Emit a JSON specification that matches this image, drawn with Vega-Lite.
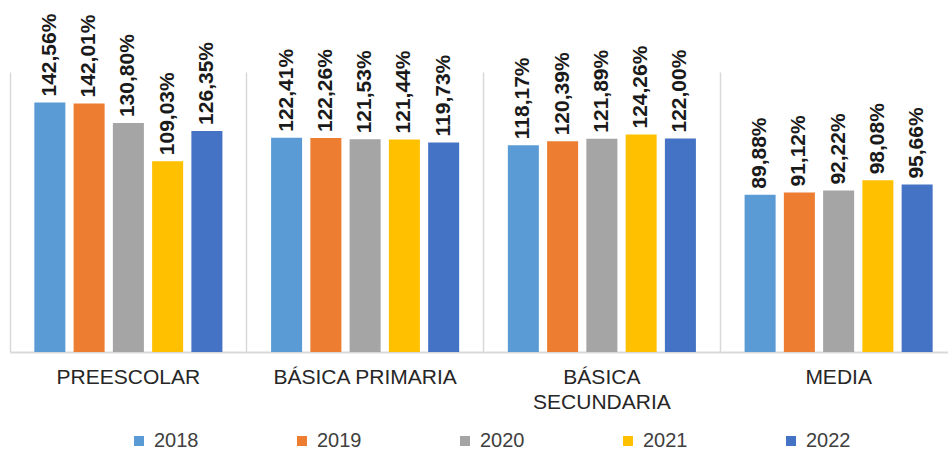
{
  "$schema": "https://vega.github.io/schema/vega-lite/v6.json",
  "autosize": {"type": "none"},
  "width": 938,
  "height": 280,
  "padding": {"left": 10, "top": 72, "right": 0, "bottom": 102},
  "background": "white",
  "config": {
    "view": {"stroke": null},
    "font": "Liberation Sans",
    "locale": {"number": {"decimal": ",", "thousands": ".", "grouping": [3], "currency": ["$", ""]}}
  },
  "data": {"values": [
    {"nivel": "PREESCOLAR", "anio": "2018", "tasa": 1.4256},
    {"nivel": "PREESCOLAR", "anio": "2019", "tasa": 1.4201},
    {"nivel": "PREESCOLAR", "anio": "2020", "tasa": 1.3080},
    {"nivel": "PREESCOLAR", "anio": "2021", "tasa": 1.0903},
    {"nivel": "PREESCOLAR", "anio": "2022", "tasa": 1.2635},
    {"nivel": "BÁSICA PRIMARIA", "anio": "2018", "tasa": 1.2241},
    {"nivel": "BÁSICA PRIMARIA", "anio": "2019", "tasa": 1.2226},
    {"nivel": "BÁSICA PRIMARIA", "anio": "2020", "tasa": 1.2153},
    {"nivel": "BÁSICA PRIMARIA", "anio": "2021", "tasa": 1.2144},
    {"nivel": "BÁSICA PRIMARIA", "anio": "2022", "tasa": 1.1973},
    {"nivel": "BÁSICA SECUNDARIA", "anio": "2018", "tasa": 1.1817},
    {"nivel": "BÁSICA SECUNDARIA", "anio": "2019", "tasa": 1.2039},
    {"nivel": "BÁSICA SECUNDARIA", "anio": "2020", "tasa": 1.2189},
    {"nivel": "BÁSICA SECUNDARIA", "anio": "2021", "tasa": 1.2426},
    {"nivel": "BÁSICA SECUNDARIA", "anio": "2022", "tasa": 1.2200},
    {"nivel": "MEDIA", "anio": "2018", "tasa": 0.8988},
    {"nivel": "MEDIA", "anio": "2019", "tasa": 0.9112},
    {"nivel": "MEDIA", "anio": "2020", "tasa": 0.9222},
    {"nivel": "MEDIA", "anio": "2021", "tasa": 0.9808},
    {"nivel": "MEDIA", "anio": "2022", "tasa": 0.9566}
  ]},
  "encoding": {
    "x": {
      "field": "nivel", "type": "nominal", "sort": null,
      "scale": {"range": [0, 947], "paddingInner": 0, "paddingOuter": 0},
      "axis": {
        "title": null, "labelAngle": 0, "labelFontSize": 21, "labelColor": "#262626",
        "labelPadding": 14, "labelLineHeight": 25, "labelBaseline": "top", "labelLimit": 400,
        "ticks": false, "tickSize": 0,
        "domainColor": "#d9d9d9", "domainWidth": 2,
        "grid": true, "gridColor": "#d9d9d9", "gridWidth": 1.5, "bandPosition": 0,
        "labelExpr": "datum.label == 'BÁSICA SECUNDARIA' ? ['BÁSICA', 'SECUNDARIA'] : datum.label"
      }
    },
    "xOffset": {
      "field": "anio", "type": "nominal",
      "scale": {"paddingInner": 0.21, "paddingOuter": 0.62}
    },
    "y": {
      "field": "tasa", "type": "quantitative",
      "scale": {"domain": [0, 1.6], "nice": false},
      "axis": null
    }
  },
  "layer": [
    {
      "mark": {"type": "bar"},
      "encoding": {
        "color": {
          "field": "anio", "type": "nominal",
          "scale": {"domain": ["2018", "2019", "2020", "2021", "2022"], "range": ["#5B9BD5", "#ED7D31", "#A5A5A5", "#FFC000", "#4472C4"]},
          "legend": {
            "title": null, "orient": "none", "direction": "horizontal",
            "legendX": 119, "legendY": 359, "padding": 0,
            "symbolType": "square", "symbolSize": 100, "symbolStrokeWidth": 0,
            "labelFontSize": 20, "labelColor": "#404040", "labelOffset": 5,
            "columnPadding": 93
          }
        }
      }
    },
    {
      "mark": {"type": "text", "angle": 270, "align": "left", "baseline": "middle", "dx": 6, "fontSize": 21, "fontWeight": "bold", "color": "#1a1a1a"},
      "encoding": {
        "text": {"field": "tasa", "type": "quantitative", "format": ".2%"}
      }
    }
  ]
}
